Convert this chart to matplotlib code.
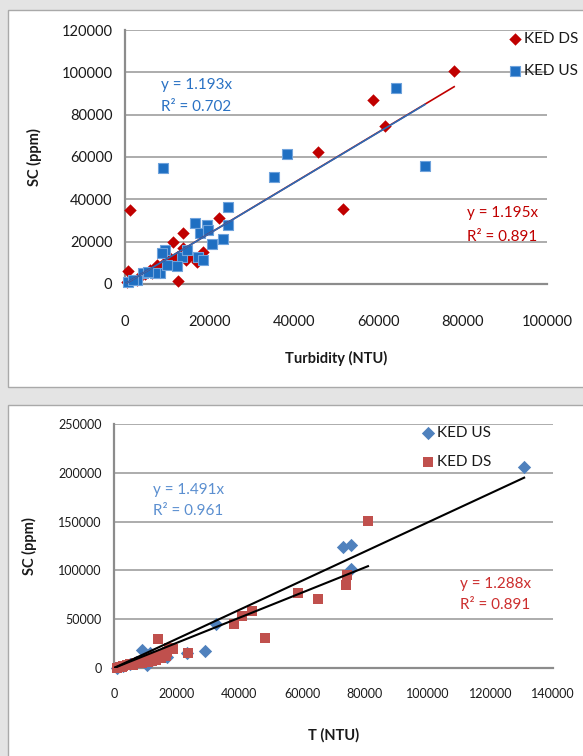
import matplotlib
matplotlib.use("Agg")
import matplotlib.pyplot as plt
from matplotlib.patches import Rectangle

plt.rcParams['font.family'] = ['Lato', 'DejaVu Sans']

# ---------------- data: top chart (Turbidity vs SC) ----------------
top_ds_x = [1200, 700, 12600, 13700, 11400, 22300, 18500, 17100, 13700, 10700,
            12300, 5900, 7600, 2800, 500, 3600, 4700, 8800, 15400, 9500,
            45700, 51700, 58800, 61600, 78000, 6500, 14500, 16500]
top_ds_y = [34900, 6100, 1400, 24100, 19800, 31100, 15100, 10400, 17000, 12300,
            12700, 6600, 9000, 1900, 900, 3800, 4700, 7500, 13700, 10400,
            62300, 35400, 86800, 74500, 100500, 5200, 11500, 12500]
top_us_x = [9000, 35300, 38400, 64200, 71100, 24400, 24400, 23200, 16600, 19400,
            17800, 19700, 20600, 9500, 8800, 13500, 14700, 17300, 18500, 12300,
            8300, 7100, 4300, 2800, 700, 10000, 5500, 1900]
top_us_y = [54700, 50500, 61300, 92500, 55700, 36300, 27800, 21200, 28800, 27800,
            24100, 25500, 18900, 16000, 14600, 12700, 16000, 12700, 11300, 8500,
            5200, 5200, 5200, 1900, 900, 9000, 5700, 1900]
top_slopes = {'KED DS': 1.195, 'KED US': 1.193}
top_r2 = {'KED DS': 0.891, 'KED US': 0.702}
top_xticks = [0, 20000, 40000, 60000, 80000, 100000]
top_yticks = [0, 20000, 40000, 60000, 80000, 100000, 120000]

# ---------------- data: bottom chart (T vs SC) ----------------
bot_us_x = [130800, 73000, 75600, 75600, 32500, 29000, 23300, 8900, 11500, 10500,
            1000, 16900, 3000, 5000, 7000, 13000]
bot_us_y = [206000, 124000, 126000, 101400, 45100, 17400, 15400, 18400, 15400, 3100,
            0, 11300, 2000, 4000, 6000, 11000]
bot_ds_x = [81000, 74300, 74000, 65000, 58700, 48200, 44000, 40800, 38300, 23600,
            18800, 14000, 2000, 3000, 4000, 5000, 6000, 7000, 8000, 9000,
            10000, 11000, 12000, 13000, 14000, 15000, 16000, 17000, 6000, 9000,
            12000, 15000, 17500, 1000, 2500, 11000, 13500, 16500]
bot_ds_y = [150600, 95300, 85000, 70700, 76800, 30700, 58400, 53300, 45100, 15400,
            19500, 29700, 1500, 2500, 3000, 4000, 4500, 5500, 6500, 7000,
            8000, 9000, 10000, 11000, 12000, 13000, 14500, 16000, 3000, 5000,
            7000, 10000, 20000, 500, 1000, 6000, 8500, 12000]
bot_slopes = {'KED US': 1.491, 'KED DS': 1.288}
bot_r2 = {'KED US': 0.961, 'KED DS': 0.891}
bot_xticks = [0, 20000, 40000, 60000, 80000, 100000, 120000, 140000]
bot_yticks = [0, 50000, 100000, 150000, 200000, 250000]

W, H = 583, 756
fig = plt.figure(figsize=(W / 100, H / 100), dpi=100)
fig.patch.set_facecolor('#e4e4e4')


def fx(x):
    return x / W


def fy(y):
    return 1 - y / H


# white panels
fig.patches.append(Rectangle((fx(7.5), fy(387)), fx(600) - fx(7.5), fy(10.5) - fy(387),
                             transform=fig.transFigure, facecolor='white',
                             edgecolor='#a9a9a9', linewidth=1.0, zorder=-5))
fig.patches.append(Rectangle((fx(7.5), fy(770)), fx(600) - fx(7.5), fy(405) - fy(770),
                             transform=fig.transFigure, facecolor='white',
                             edgecolor='#a9a9a9', linewidth=1.0, zorder=-5))

GRID = '#a6a6a6'
SPINE = '#8c8c8c'
TXT = '#1a1a1a'
FS = 11


def style_axes(ax, xticks, yticks, fs):
    ax.set_zorder(2)
    ax.set_facecolor('none')
    for s in ['top', 'right']:
        ax.spines[s].set_visible(False)
    for s in ['left', 'bottom']:
        ax.spines[s].set_color(SPINE)
        ax.spines[s].set_linewidth(1.6)
    ax.set_xticks(xticks)
    ax.set_yticks(yticks)
    ax.set_xticklabels([str(t) for t in xticks])
    ax.set_yticklabels([str(t) for t in yticks])
    ax.tick_params(length=0, labelsize=fs, colors=TXT, pad=9)
    ax.yaxis.grid(True, color=GRID, linewidth=1.3)
    ax.set_axisbelow(True)


# ---------------- top chart ----------------
ax1 = fig.add_axes([fx(125), fy(284), fx(547) - fx(125), fy(30) - fy(284)])
ax1.set_xlim(top_xticks[0], top_xticks[-1])
ax1.set_ylim(top_yticks[0], top_yticks[-1])
style_axes(ax1, top_xticks, top_yticks, 10.5)
ax1.tick_params(axis='x', pad=22)

RED1 = '#c00000'
BLUE1 = '#1f6fc2'
h_ds1 = ax1.scatter(top_ds_x, top_ds_y, marker='D', s=40, color=RED1, linewidths=0,
                    zorder=3, clip_on=False)
h_us1 = ax1.scatter(top_us_x, top_us_y, marker='s', s=44, facecolor=BLUE1,
                    edgecolor='#6fa3dc', linewidths=0.8, zorder=4, clip_on=False)
xm = max(top_ds_x)
ax1.plot([0, xm], [0, top_slopes['KED DS'] * xm], color=RED1, lw=1.2, zorder=5)
xm = max(top_us_x)
ax1.plot([0, xm], [0, top_slopes['KED US'] * xm], color='#2a6db8', lw=1.2, zorder=6)

ax1.set_xlabel('Turbidity (NTU)', fontsize=10.5, fontweight='bold', color=TXT, labelpad=16)
ax1.set_ylabel('SC (ppm)', fontsize=10.5, fontweight='bold', color=TXT, labelpad=14)

fig.text(fx(161), fy(85), f"y = {top_slopes['KED US']:.3f}x", color='#2a72c4',
         fontsize=FS, va='center', ha='left')
fig.text(fx(161), fy(107), f"R² = {top_r2['KED US']:.3f}", color='#2a72c4',
         fontsize=FS, va='center', ha='left')
fig.text(fx(467), fy(213), f"y = {top_slopes['KED DS']:.3f}x", color=RED1,
         fontsize=FS, va='center', ha='left')
fig.text(fx(467), fy(237), f"R² = {top_r2['KED DS']:.3f}", color=RED1,
         fontsize=FS, va='center', ha='left')

leg1 = fig.legend([h_ds1, h_us1], ['KED DS', 'KED US'], loc='upper left',
                  bbox_to_anchor=(fx(504), fy(32)), bbox_transform=fig.transFigure,
                  frameon=False, fontsize=FS, handletextpad=-0.1, labelspacing=1.2,
                  handlelength=1.4, borderpad=0, borderaxespad=0)
for t in leg1.get_texts():
    t.set_color(TXT)

# ---------------- bottom chart ----------------
ax2 = fig.add_axes([fx(114), fy(668), fx(553) - fx(114), fy(424) - fy(668)])
ax2.set_xlim(bot_xticks[0], bot_xticks[-1])
ax2.set_ylim(bot_yticks[0], bot_yticks[-1])
style_axes(ax2, bot_xticks, bot_yticks, 9)
ax2.tick_params(axis='x', pad=14.5)

BLUE2 = '#4f81bd'
RED2 = '#c0504d'
h_us2 = ax2.scatter(bot_us_x, bot_us_y, marker='D', s=46, color=BLUE2, linewidths=0,
                    zorder=3, clip_on=False)
h_ds2 = ax2.scatter(bot_ds_x, bot_ds_y, marker='s', s=52, color=RED2, linewidths=0,
                    zorder=4, clip_on=False)
xm = max(bot_us_x)
ax2.plot([0, xm], [0, bot_slopes['KED US'] * xm], color='black', lw=1.5, zorder=5)
xm = max(bot_ds_x)
ax2.plot([0, xm], [0, bot_slopes['KED DS'] * xm], color='black', lw=1.5, zorder=5)

ax2.set_xlabel('T (NTU)', fontsize=10.5, fontweight='bold', color=TXT, labelpad=20)
ax2.set_ylabel('SC (ppm)', fontsize=10.5, fontweight='bold', color=TXT, labelpad=15)

fig.text(fx(153), fy(490), f"y = {bot_slopes['KED US']:.3f}x", color='#5b8fd0',
         fontsize=FS, va='center', ha='left')
fig.text(fx(153), fy(511), f"R² = {bot_r2['KED US']:.3f}", color='#5b8fd0',
         fontsize=FS, va='center', ha='left')
fig.text(fx(460), fy(584), f"y = {bot_slopes['KED DS']:.3f}x", color='#cc2e2e',
         fontsize=FS, va='center', ha='left')
fig.text(fx(460), fy(605), f"R² = {bot_r2['KED DS']:.3f}", color='#cc2e2e',
         fontsize=FS, va='center', ha='left')

leg2 = fig.legend([h_us2, h_ds2], ['KED US', 'KED DS'], loc='upper left',
                  bbox_to_anchor=(fx(417), fy(426)), bbox_transform=fig.transFigure,
                  frameon=False, fontsize=FS, handletextpad=-0.1, labelspacing=0.95,
                  handlelength=1.4, borderpad=0, borderaxespad=0)
for t in leg2.get_texts():
    t.set_color(TXT)

fig.savefig('out.png', dpi=100, facecolor=fig.get_facecolor())
